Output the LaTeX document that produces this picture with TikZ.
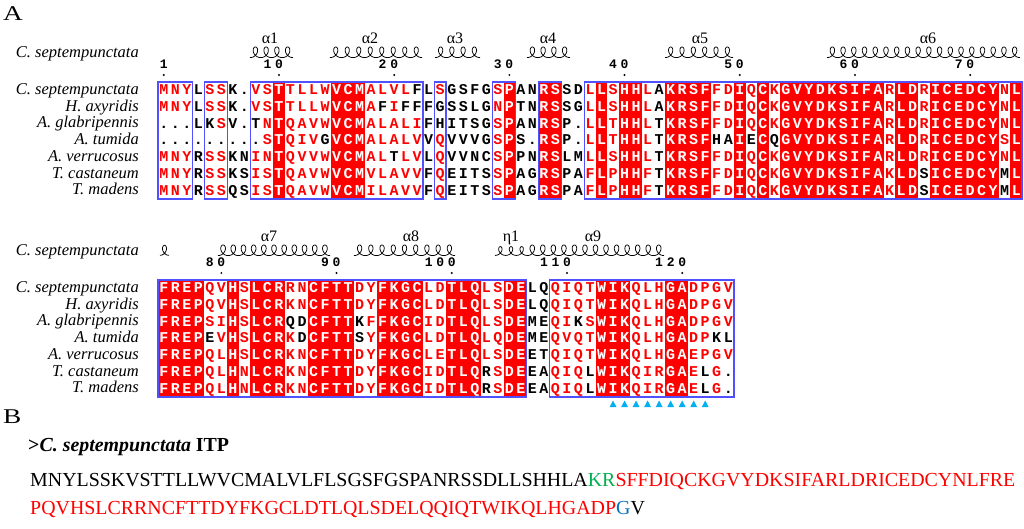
\documentclass[tikz,border=0pt]{standalone}
\usepackage{fontspec}
\setmainfont{Liberation Serif}
\newfontfamily\resfont{Liberation Mono}
\usepackage{graphicx}
\definecolor{espred}{RGB}{255,0,0}
\definecolor{espblue}{RGB}{80,80,255}
\definecolor{tricyan}{RGB}{0,176,240}
\definecolor{bgreen}{RGB}{0,176,80}
\definecolor{bblue}{RGB}{0,112,192}

\newcount\rescol
\def\poptype#1#2\relax{\def\curT{#1}\def\restype{#2}}
\def\placeres#1{%
  \expandafter\poptype\restype\relax
  \pgfmathsetmacro\resx{\blockx+(\the\rescol-0.5)*11.52}%
  \if F\curT
    \node[resw] at (\resx,\resy) {\uppercase{#1}};%
  \else
    \ifnum`#1>96
      \node[resr] at (\resx,\resy) {\uppercase{#1}};%
    \else
      \node[resk] at (\resx,\resy) {#1};%
    \fi
  \fi}
\def\resloop#1{\ifx\relax#1\else\advance\rescol by 1\relax\placeres{#1}\expandafter\resloop\fi}
\newcommand\resrow[3]{\let\restype#1\def\resy{#2}\rescol=0\relax\resloop#3\relax}

% helix: x0, x1, loops, centre y, half height, horizontal amplitude
\newcommand\helix[6]{%
  \pgfmathsetmacro\hend{2*pi*#3}%
  \pgfmathsetmacro\hc{(#2-#1)/(2*pi*#3)}%
  \pgfmathtruncatemacro\hs{36*#3+1}%
  \draw[helixline] plot[domain=0:\hend, samples=\hs, variable=\t] ({#1+\hc*\t+#6*sin(\t r)}, {#4+#5*cos(\t r)});}

\def\typeA{----------F----FFF------------F--FF---F-FF--FFFF--F-F-FFFFFFFFF-FF-FFFFFF-F}
\def\typeB{FFFF--F-FFF--FFFF--FFFF--FFF--FF------FFF---FF----}

\tikzset{
  res/.style={inner sep=0pt, anchor=base, font=\resfont\bfseries\fontsize{15}{15}\selectfont},
  resw/.style={res, text=white},
  resr/.style={res, text=espred},
  resk/.style={res, text=black},
  spname/.style={inner sep=0pt, anchor=base east, font=\itshape\fontsize{16.5}{16.5}\selectfont},
  alab/.style={inner sep=0pt, anchor=base, font=\fontsize{16}{16}\selectfont},
  numd/.style={inner sep=0pt, anchor=base, font=\resfont\bfseries\fontsize{13}{13}\selectfont},
  helixline/.style={line width=0.75pt, black},
  boxline/.style={draw=espblue, line width=1.1pt},
  btext/.style={inner sep=0pt, anchor=base west, font=\fontsize{19.9}{22}\selectfont},
  panel/.style={inner sep=0pt, anchor=base west, font=\fontsize{21}{21}\selectfont},
}

\begin{document}
\begin{tikzpicture}[x=1pt,y=-1pt]
\useasboundingbox (0,0) rectangle (1024,528);

% panel letters
\node[panel] (pA) at (3,20.5) {\scalebox{1.3}[1]{A}};
\node[panel] (pB) at (3,423) {\scalebox{1.3}[1]{B}};

% ===== Block 1 =====
\node[spname] (topa) at (139,57.5) {C. septempunctata};
\node[alab] (a1) at (270,43) {α1};
\node[alab] (a2) at (370,43) {α2};
\node[alab] (a3) at (455,43) {α3};
\node[alab] (a4) at (548,43) {α4};
\node[alab] (a5) at (700,43) {α5};
\node[alab] (a6) at (928,43) {α6};
\helix{250}{293}{4}{52.3}{5.3}{4.6}
\helix{330}{422}{8}{52.3}{5.3}{4.6}
\helix{435}{480}{4}{52.3}{5.3}{4.6}
\helix{527}{570}{4}{52.3}{5.3}{4.6}
\helix{665}{733}{6}{52.3}{5.3}{4.6}
\helix{827}{1020}{18}{52.3}{5.3}{4.6}
\foreach \c/\d in {1/1,10/1,11/0,20/2,21/0,30/3,31/0,40/4,41/0,50/5,51/0,60/6,61/0,70/7,71/0}
  \node[numd] at ({158+(\c-0.5)*11.52},68.5) {\d};
\foreach \c in {1,11,21,31,41,51,61,71}
  \fill ({158+(\c-0.5)*11.52},75) circle (1.1);

\foreach \a/\b in {11/11,16/18,31/31,34/35,39/39,41/42,45/48,51/51,53/53,55/63,65/66,68/73,75/75}
  \fill[espred] ({158+(\a-1)*11.52},82) rectangle ({158+\b*11.52},199);

\def\blockx{158}
\resrow\typeA{94.85}{mnyLssK.vsTtllwVCMalvlFLsGSFGsPANRSSDlLsHHlAKRSFfdIqCkGVYDKSIFArLDrICEDCYnL}
\resrow\typeA{111.55}{mnyLssK.vsTtllwVCMaFiFFFGSSLGnPTNRSSGlLsHHlAKRSFfdIqCkGVYDKSIFArLDrICEDCYnL}
\resrow\typeA{128.25}{...LKsV.TnTqavwVCMalaliFHITSGsPANRSP.lLtHHlTKRSFfdIqCkGVYDKSIFArLDrICEDCYnL}
\resrow\typeA{144.95}{.........sTqivGVCMalalvVqVVVGsPS.RSP.lLtHHlTKRSFHAIECQGVYDKSIFArLDrICEDCYsL}
\resrow\typeA{161.65}{mnyRssKNinTqvvwVCMalTlvLqVVNCsPPNRSLMlLsHHlTKRSFfdIqCkGVYDKSIFArLDrICEDCYnL}
\resrow\typeA{178.35}{mnyRssKSisTqavwVCMvlavvFqEITSsPAGRSPAfLpHHfTKRSFfdIqCkGVYDKSIFAkLDSICEDCYML}
\resrow\typeA{195.05}{mnyRssQSisTqavwVCMilavvFqEITSsPAGRSPAfLpHHfTKRSFfdIqCkGVYDKSIFAkLDSICEDCYML}

\foreach \a/\b in {1/3,5/6,9/23,25/25,30/31,34/35,38/75}
  \draw[boxline] ({158+(\a-1)*11.52},82) rectangle ({158+\b*11.52},199);

\node[spname] (s1a) at (139,94.5) {C. septempunctata};
\node[spname] (s2a) at (139,111.2) {H. axyridis};
\node[spname] (s3a) at (139,127.9) {A. glabripennis};
\node[spname] (s4a) at (139,144.6) {A. tumida};
\node[spname] (s5a) at (139,161.3) {A. verrucosus};
\node[spname] (s6a) at (139,178) {T. castaneum};
\node[spname] (s7a) at (139,194.7) {T. madens};

% ===== Block 2 =====
\node[spname] (topb) at (139,255.5) {C. septempunctata};
\node[alab] (a7) at (269,241) {α7};
\node[alab] (a8) at (411,241) {α8};
\node[alab] (e1) at (511,241) {η1};
\node[alab] (a9) at (593,241) {α9};
\helix{160}{169}{1}{250.3}{5}{4}
\helix{218}{330}{11}{250.3}{5.3}{4.6}
\helix{354}{455}{9}{250.3}{5.3}{4.6}
\helix{495}{527}{3}{251}{4.4}{4}
\helix{527}{664}{13}{250.3}{5.3}{4.6}
\foreach \c/\d in {5/8,6/0,15/9,16/0,24/1,25/0,26/0,34/1,35/1,36/0,44/1,45/2,46/0}
  \node[numd] at ({158+(\c-0.5)*11.52},266.5) {\d};
\foreach \c in {6,16,26,36,46}
  \fill ({158+(\c-0.5)*11.52},273) circle (1.1);

\foreach \a/\b in {1/4,7/7,9/11,14/17,20/23,26/28,31/32,39/41,45/46}
  \fill[espred] ({158+(\a-1)*11.52},280) rectangle ({158+\b*11.52},397);

\resrow\typeB{292.85}{FREPqvHsLCRrnCFTTdyFKGCldTLQlsDELQqiqtWIKqlhGAdpgv}
\resrow\typeB{309.55}{FREPqvHsLCRknCFTTdyFKGCldTLQlsDELQqiqtWIKqlhGAdpgv}
\resrow\typeB{326.25}{FREPsiHsLCRQDCFTTKfFKGCidTLQlsDEMEqiKsWIKqlhGAdpgv}
\resrow\typeB{342.95}{FREPEvHsLCRkDCFTTSyFKGCldTLQlqDEMEqvqtWIKqlhGAdpKL}
\resrow\typeB{359.65}{FREPqlHsLCRknCFTTdyFKGCleTLQlsDEETqiqtWIKqlhGAepgv}
\resrow\typeB{376.35}{FREPqlHnLCRknCFTTdyFKGCidTLQRsDEEAqiqLWIKqirGAeLg.}
\resrow\typeB{393.05}{FREPqlHnLCRknCFTTdyFKGCidTLQRsDEEAqiqLWIKqirGAeLg.}

\foreach \a/\b in {1/32,35/50}
  \draw[boxline] ({158+(\a-1)*11.52},280) rectangle ({158+\b*11.52},397);

\node[spname] (s1b) at (139,292.5) {C. septempunctata};
\node[spname] (s2b) at (139,309.2) {H. axyridis};
\node[spname] (s3b) at (139,325.9) {A. glabripennis};
\node[spname] (s4b) at (139,342.6) {A. tumida};
\node[spname] (s5b) at (139,359.3) {A. verrucosus};
\node[spname] (s6b) at (139,376) {T. castaneum};
\node[spname] (s7b) at (139,392.7) {T. madens};

\foreach \c in {40,...,48}
  \fill[tricyan] ({158+(\c-0.5)*11.52-3.4},407) -- ({158+(\c-0.5)*11.52+3.4},407) -- ({158+(\c-0.5)*11.52},400.5) -- cycle;

% ===== Panel B =====
\node[btext] (bhead) at (28,451) {\bfseries >\textit{C. septempunctata} ITP};
\node[btext] (bline1) at (30,486.5) {MNYLSSKVSTTLLWVCMALVLFLSGSFGSPANRSSDLLSHHLA\textcolor{bgreen}{KR}\textcolor{espred}{SFFDIQCKGVYDKSIFARLDRICEDCYNLFRE}};
\node[btext] (bline2) at (30,514.5) {\textcolor{espred}{PQVHSLCRRNCFTTDYFKGCLDTLQLSDELQQIQTWIKQLHGADP}\textcolor{bblue}{G}V};
\end{tikzpicture}
\end{document}
